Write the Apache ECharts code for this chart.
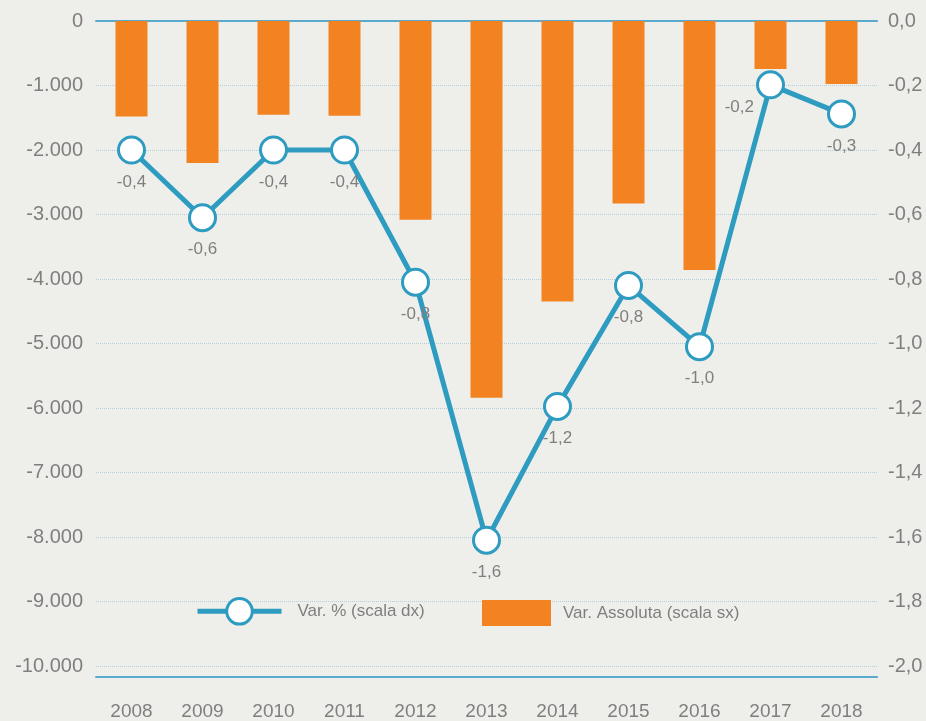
<!DOCTYPE html>
<html><head><meta charset="utf-8">
<script src="https://cdn.jsdelivr.net/npm/echarts@6/dist/echarts.min.js"></script>
<style>html,body{margin:0;padding:0;background:#eeefea;}#c{width:926px;height:721px;}</style>
</head><body><div id="c"></div>
<script>
const years = ['2008','2009','2010','2011','2012','2013','2014','2015','2016','2017','2018'];
const varAssoluta = [-1480, -2200, -1455, -1470, -3080, -5840, -4350, -2830, -3860, -745, -975];
const varPerc = [-0.40, -0.61, -0.40, -0.40, -0.81, -1.61, -1.195, -0.82, -1.01, -0.198, -0.288];
const leftTicks = {min: -10000, max: 0, interval: 1000};
const rightTicks = {min: -2, max: 0, interval: 0.2};

const gray = '#7f7f7f';
const blue = '#2e9bc0';
const orange = '#f38321';
const font = 'Liberation Sans, sans-serif';
function fmtThousands(v){
  if (v === 0) return '0';
  const s = Math.abs(v).toString().replace(/\B(?=(\d{3})+(?!\d))/g, '.');
  return (v < 0 ? '-' : '') + s;
}
function fmtDec(v){ return v.toFixed(1).replace('.', ','); }

const chart = echarts.init(document.getElementById('c'));
chart.setOption({
  backgroundColor: '#eeefea',
  animation: false,
  textStyle: {fontFamily: font},
  grid: {left: 96, right: 49, top: 21, bottom: 54},
  legend: [{
    left: 190, top: 592,
    itemWidth: 84, itemHeight: 32,
    textStyle: {color: gray, fontSize: 17, fontFamily: font, padding: [0, 0, 0, 11]},
    lineStyle: {width: 5, color: blue},
    itemStyle: {color: '#ffffff', borderColor: blue, borderWidth: 3},
    data: ['Var. % (scala dx)']
  }, {
    left: 477, top: 595,
    itemWidth: 69, itemHeight: 26,
    textStyle: {color: gray, fontSize: 17, fontFamily: font, padding: [0, 0, 0, 7]},
    data: [{name: 'Var. Assoluta (scala sx)', icon: 'rect'}]
  }],
  xAxis: [{
    type: 'category', data: years, position: 'bottom', offset: 11,
    axisLine: {onZero: false, lineStyle: {color: '#5aaace', width: 2}},
    axisTick: {show: false},
    axisLabel: {color: gray, fontSize: 19, margin: 25, fontFamily: font}
  }, {
    type: 'category', data: years, position: 'top',
    axisLine: {show: true, onZero: false, lineStyle: {color: '#5aaace', width: 2}},
    axisTick: {show: false}, axisLabel: {show: false}
  }],
  yAxis: [{
    type: 'value', min: leftTicks.min, max: leftTicks.max, interval: leftTicks.interval,
    axisLine: {show: false}, axisTick: {show: false},
    axisLabel: {color: gray, fontSize: 20, margin: 13, formatter: fmtThousands, fontFamily: font},
    splitLine: {show: true, lineStyle: {color: '#b3cfdb', type: 'dotted', width: 1}}
  }, {
    type: 'value', min: rightTicks.min, max: rightTicks.max, interval: rightTicks.interval,
    position: 'right',
    axisLine: {show: false}, axisTick: {show: false},
    axisLabel: {color: gray, fontSize: 20, margin: 11, formatter: fmtDec, fontFamily: font},
    splitLine: {show: false}
  }],
  series: [{
    name: 'Var. Assoluta (scala sx)', type: 'bar', data: varAssoluta,
    yAxisIndex: 0, barWidth: 32,
    itemStyle: {color: orange}
  }, {
    name: 'Var. % (scala dx)', type: 'line', yAxisIndex: 1,
    data: varPerc.map((v, i) => i === 9 ? {value: v, label: {position: 'left', distance: 2, offset: [0, 22]}} : v),
    symbol: 'circle', symbolSize: 26, showAllSymbol: true,
    lineStyle: {color: blue, width: 5},
    itemStyle: {color: '#ffffff', borderColor: blue, borderWidth: 3},
    label: {show: true, position: 'bottom', distance: 9, color: gray, fontSize: 17,
      fontFamily: font,
      formatter: p => fmtDec(p.value)},
    z: 5
  }]
});
</script></body></html>
